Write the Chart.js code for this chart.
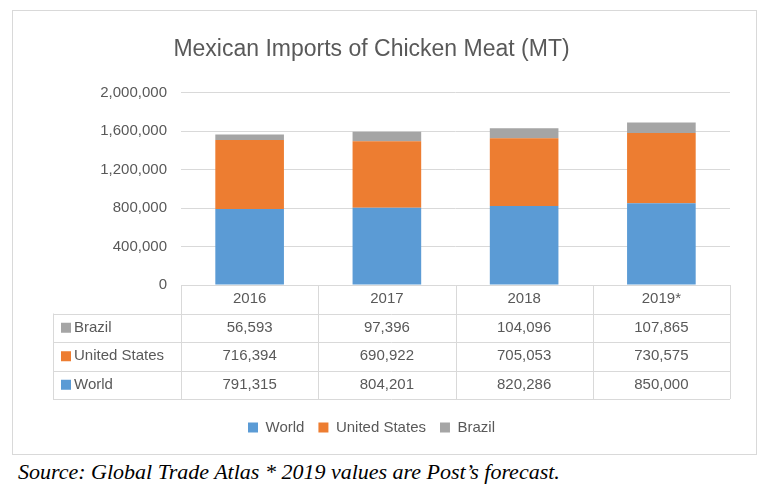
<!DOCTYPE html>
<html>
<head>
<meta charset="utf-8">
<script src="https://cdn.jsdelivr.net/npm/chart.js@4"></script>
<style>
  body { margin: 0; background: #fff; width: 771px; height: 492px; position: relative; font-family: "Liberation Sans", Arial, sans-serif; }
  #box { position: absolute; left: 12px; top: 10px; width: 745px; height: 445px; border: 1px solid #d9d9d9; box-sizing: border-box; }
  #src { position: absolute; left: 18px; top: 459px; font-family: "Liberation Serif", "Times New Roman", serif; font-style: italic; font-size: 22px; color: #000; }
</style>
</head>
<body>
<div id="box"><canvas id="chart" width="743" height="443"></canvas></div>
<div id="src">Source: Global Trade Atlas * 2019 values are Post’s forecast.</div>
<script>
const categories = ['2016', '2017', '2018', '2019*'];
const world = [791315, 804201, 820286, 850000];
const unitedStates = [716394, 690922, 705053, 730575];
const brazil = [56593, 97396, 104096, 107865];
const yTicks = [0, 400000, 800000, 1200000, 1600000, 2000000];

const colors = { World: '#5b9bd5', 'United States': '#ed7d31', Brazil: '#a5a5a5' };
const fmt = v => v.toLocaleString('en-US');

// data table drawn under the plot, aligned with the x scale
const tablePlugin = {
    id: 'dataTable',
    afterDraw(chart) {
        const ctx = chart.ctx;
        const area = chart.chartArea;
        const x = chart.scales.x;
        const rowH = 28.5;
        const top = area.bottom;
        const labelLeft = 40;
        const bounds = [area.left];
        for (let i = 0; i < categories.length; i++) {
            bounds.push(i < categories.length - 1 ? (x.getPixelForValue(i) + x.getPixelForValue(i + 1)) / 2 : area.right);
        }
        const rows = [
            ['Brazil', brazil],
            ['United States', unitedStates],
            ['World', world]
        ];
        ctx.save();
        ctx.strokeStyle = '#d9d9d9';
        ctx.lineWidth = 1;
        ctx.beginPath();
        ctx.moveTo(area.left, top + 0.5); ctx.lineTo(area.right, top + 0.5);
        for (let r = 1; r <= 4; r++) {
            const y = Math.round(top + r * rowH) + 0.5;
            ctx.moveTo(labelLeft, y); ctx.lineTo(area.right, y);
        }
        bounds.forEach(b => {
            const bx = Math.round(b) + 0.5;
            ctx.moveTo(bx, top); ctx.lineTo(bx, top + 4 * rowH);
        });
        ctx.moveTo(labelLeft + 0.5, top + rowH); ctx.lineTo(labelLeft + 0.5, top + 4 * rowH);
        ctx.stroke();

        ctx.font = '15px "Liberation Sans", Arial, sans-serif';
        ctx.fillStyle = '#595959';
        ctx.textBaseline = 'middle';
        ctx.textAlign = 'center';
        categories.forEach((c, i) => ctx.fillText(c, x.getPixelForValue(i), top + rowH / 2));
        rows.forEach(([name, vals], r) => {
            const cy = top + (r + 1.5) * rowH;
            ctx.fillStyle = colors[name];
            ctx.fillRect(labelLeft + 8, cy - 5, 10, 10);
            ctx.fillStyle = '#595959';
            ctx.textAlign = 'left';
            ctx.fillText(name, labelLeft + 21, cy);
            ctx.textAlign = 'center';
            vals.forEach((v, i) => ctx.fillText(fmt(v), x.getPixelForValue(i), cy));
        });
        ctx.restore();
    }
};

new Chart(document.getElementById('chart'), {
    type: 'bar',
    data: {
        labels: categories,
        datasets: [
            { label: 'World', data: world, backgroundColor: colors.World },
            { label: 'United States', data: unitedStates, backgroundColor: colors['United States'] },
            { label: 'Brazil', data: brazil, backgroundColor: colors.Brazil }
        ]
    },
    options: {
        responsive: false,
        animation: false,
        layout: { padding: { left: 0, right: 26, top: 8, bottom: 9 } },
        datasets: { bar: { categoryPercentage: 0.5, barPercentage: 1 } },
        plugins: {
            title: {
                display: true,
                text: 'Mexican Imports of Chicken Meat (MT)',
                color: '#595959',
                font: { size: 23, weight: 'normal', family: '"Liberation Sans", Arial, sans-serif' },
                padding: { top: 17, bottom: 29 }
            },
            legend: {
                position: 'bottom',
                labels: {
                    boxWidth: 10, boxHeight: 10, padding: 14, color: '#595959',
                    font: { size: 15, family: '"Liberation Sans", Arial, sans-serif' }
                }
            },
            tooltip: { enabled: false }
        },
        scales: {
            x: {
                stacked: true,
                ticks: { display: false },
                grid: { display: false },
                border: { display: false },
                afterFit: s => { s.height = 121; }
            },
            y: {
                stacked: true,
                min: 0, max: 2000000,
                afterBuildTicks: s => { s.ticks = yTicks.map(v => ({ value: v })); },
                afterFit: s => { s.width = 168; },
                ticks: {
                    color: '#595959', padding: 14,
                    font: { size: 15, family: '"Liberation Sans", Arial, sans-serif' },
                    callback: v => fmt(v)
                },
                grid: { color: '#d9d9d9', drawTicks: false },
                border: { display: false }
            }
        }
    },
    plugins: [tablePlugin]
});
</script>
</body>
</html>
